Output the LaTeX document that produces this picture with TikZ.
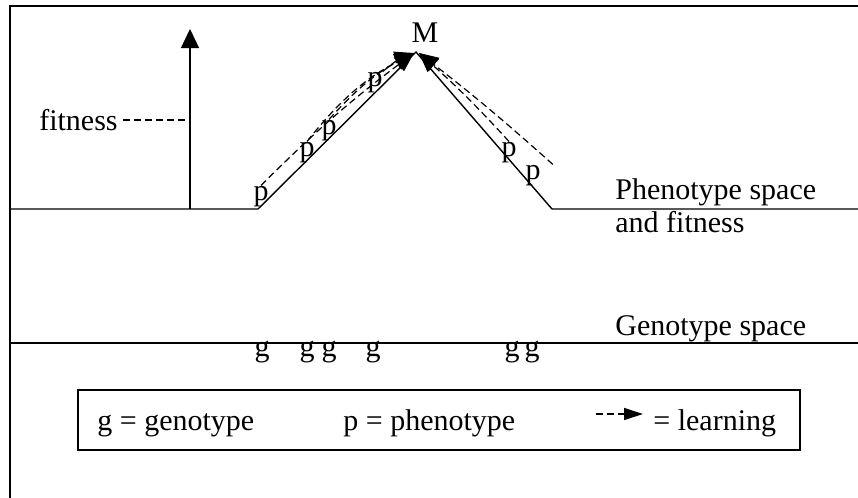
\documentclass[tikz,border=0pt]{standalone}
\usepackage{fontspec}
\setmainfont{Liberation Serif}
\usetikzlibrary{arrows.meta}

\begin{document}
\begin{tikzpicture}[x=0.5pt,y=-0.5pt,
  every node/.style={font=\fontsize{15}{18}\selectfont,inner sep=0pt},
  solidline/.style={line width=0.7pt},
  dashline/.style={line width=0.6pt,dash pattern=on 3.5pt off 2pt},
  learn/.style={dashline,-{Triangle[length=9.5pt,width=8.5pt]}},
  smalllearn/.style={dashline,-{Triangle[length=9.5pt,width=6pt]}}]
\useasboundingbox (0,0) rectangle (858,498);
\draw[line width=0.8pt] (858,6) -- (10,6) -- (10,498);
\coordinate (top) at (416,52);
\coordinate (apexL) at (414,53);
\coordinate (apexR) at (419,53);
\draw[solidline] (10,209) -- (258,209) -- (top) -- (552,209) -- (858,209);
\draw[solidline] (10,343) -- (858,343);
\coordinate (axisfoot) at (190,209);
\coordinate (axistop) at (190,29);
\draw[solidline,-{Triangle[length=9.5pt,width=9pt]}] (axisfoot) -- (axistop);
\node[anchor=east] (fitness) at (118,120) {fitness};
\draw[dashline,shorten <=2.5pt] (fitness.east) -- (fitness.east -| axisfoot);
\node[anchor=base] (M) at (425,42) {M};
\node[anchor=base west] (phen) at (615,199) {Phenotype space};
\node[anchor=base west] (phenfit) at (615,232) {and fitness};
\node[anchor=base west] (geno) at (615,335) {Genotype space};
\node[anchor=base] (p1) at (261,200) {p};
\node[anchor=base] (p2) at (307,156) {p};
\node[anchor=base] (p3) at (329,134) {p};
\node[anchor=base] (p4) at (375,86) {p};
\node[anchor=base] (p5) at (509,156) {p};
\node[anchor=base] (p6) at (533,179) {p};
\draw[learn] (p1.north) to[bend left=4] (apexL);
\draw[learn] (p2.north) to[bend left=12] (apexL);
\draw[learn] (p3.north) to[bend left=10] (apexL);
\draw[learn] (p4.north east) to[bend left=10] (apexL);
\draw[learn] (p5.north) to[bend right=3] (apexR);
\draw[learn] ([xshift=6pt]p6.north east) to[bend right=2] (apexR);
\node[anchor=base] (g1) at (262,356) {g};
\node[anchor=base] (g2) at (307,356) {g};
\node[anchor=base] (g3) at (329,356) {g};
\node[anchor=base] (g4) at (373,356) {g};
\node[anchor=base] (g5) at (512,356) {g};
\node[anchor=base] (g6) at (532,356) {g};
\node[draw,line width=0.9pt,minimum width=361pt,minimum height=30pt] (legend) at (439,420) {};
\node[anchor=base west] (gkey) at (97,430) {g = genotype};
\node[anchor=base west] (pkey) at (343,430) {p = phenotype};
\node[anchor=base west] (lkey) at (653,430) {= learning};
\coordinate (lfrom) at (596,414);
\coordinate (lto) at (643,414);
\draw[smalllearn] (lfrom) -- (lto);
\end{tikzpicture}
\end{document}
